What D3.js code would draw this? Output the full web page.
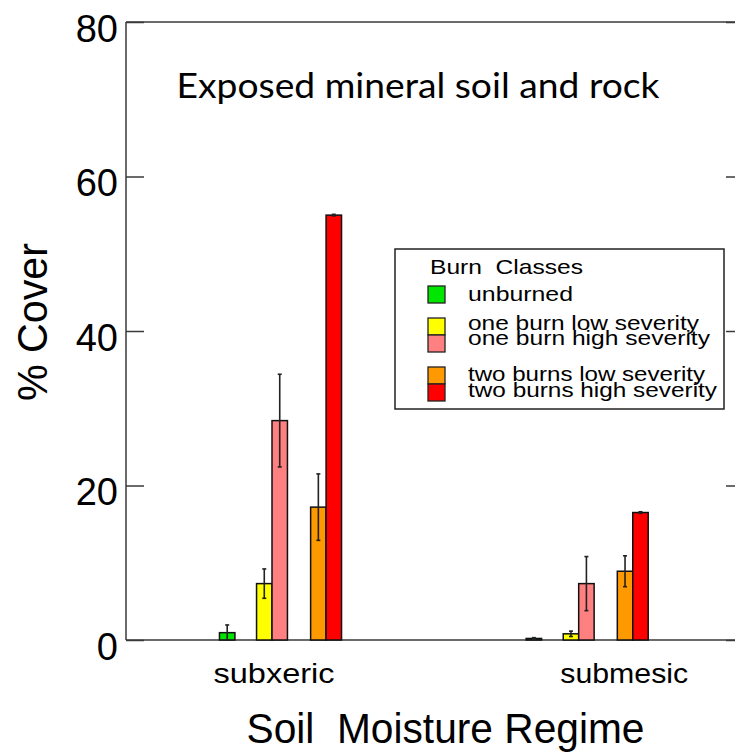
<!DOCTYPE html>
<html>
<head>
<meta charset="utf-8">
<script src="https://cdn.jsdelivr.net/npm/d3@7"></script>
<style>
  html, body { margin: 0; padding: 0; background: #fff; }
  svg { display: block; }
</style>
</head>
<body>
<svg id="chart" width="735" height="752"></svg>
<script>
// Soil moisture regimes on the x axis
const regimes = ["subxeric", "submesic"];

// Burn classes (one bar per class within each regime)
const burnClasses = [
  "unburned",
  "one burn low severity",
  "one burn high severity",
  "two burns low severity",
  "two burns high severity"
];
const classColors = ["#00e600", "#ffff00", "#ff8080", "#ff9900", "#ff0000"];

// Mean % cover of exposed mineral soil and rock, per regime
const subxericCover = [0.95, 7.3, 28.4, 17.2, 55.0];
const submesicCover = [0.2, 0.8, 7.3, 8.9, 16.5];

// Standard errors
const subxericErr = [1.0, 1.9, 6.0, 4.3, 0.1];
const submesicErr = [0.1, 0.35, 3.5, 2.0, 0.1];

const yTicks = [0, 20, 40, 60, 80];

const coverByRegime = [subxericCover, submesicCover];
const errByRegime = [subxericErr, submesicErr];

// ---- layout ----
const svg = d3.select("#chart");
const plotLeft = 126, plotRight = 744, plotTop = 22, plotBottom = 640;

// x runs in bar-width units across the frame
const x = d3.scaleLinear().domain([0, 40]).range([plotLeft, plotLeft + 40 * 15.45]);
const y = d3.scaleLinear().domain([0, 80]).range([plotBottom, plotTop]);

// first-bar centre of each regime group, bar offsets within a group, label centres
const groupStart = [6.55, 26.4];
const barOffset = [0, 2.4, 3.4, 5.9, 6.9];
const labelCentre = [9.58, 32.25];
const labelWidth = [121, 128];

const axisColor = "#3a3a3a";

// frame
svg.append("g")
  .attr("fill", "none")
  .attr("stroke", axisColor)
  .attr("stroke-width", 1.5)
  .selectAll("line")
  .data([
    [plotLeft, plotTop, plotRight, plotTop],
    [plotLeft, plotTop, plotLeft, plotBottom],
    [plotLeft, plotBottom, plotRight, plotBottom],
    [plotRight, plotTop, plotRight, plotBottom]
  ])
  .join("line")
  .attr("x1", d => d[0]).attr("y1", d => d[1])
  .attr("x2", d => d[2]).attr("y2", d => d[3]);

// left axis: inward ticks, labels outside
const yAxis = svg.append("g")
  .attr("transform", `translate(${plotLeft},0)`)
  .call(d3.axisLeft(y).tickValues(yTicks).tickSize(-18).tickSizeOuter(0).tickPadding(8));
yAxis.select(".domain").remove();
yAxis.selectAll(".tick line").attr("stroke", axisColor).attr("stroke-width", 1.5);
yAxis.selectAll(".tick text")
  .attr("fill", "#000")
  .attr("font-family", "'Liberation Sans', Arial, sans-serif")
  .attr("font-size", 38)
  .attr("dy", "0.5em");

// right axis: inward ticks only
const yAxisR = svg.append("g")
  .attr("transform", `translate(${plotRight},0)`)
  .call(d3.axisRight(y).tickValues(yTicks).tickSize(-18).tickSizeOuter(0).tickFormat(""));
yAxisR.select(".domain").remove();
yAxisR.selectAll(".tick line").attr("stroke", axisColor).attr("stroke-width", 1.5);

// bars
const barW = x(1) - x(0);
const rows = [];
regimes.forEach((r, gi) => {
  burnClasses.forEach((c, ci) => {
    rows.push({
      regime: r, cls: c, ci,
      value: coverByRegime[gi][ci],
      err: errByRegime[gi][ci],
      cx: x(groupStart[gi] + barOffset[ci])
    });
  });
});

svg.append("g")
  .selectAll("rect")
  .data(rows)
  .join("rect")
  .attr("x", d => d.cx - barW / 2)
  .attr("width", barW)
  .attr("y", d => y(d.value))
  .attr("height", d => y(0) - y(d.value))
  .attr("fill", d => classColors[d.ci])
  .attr("stroke", "#111")
  .attr("stroke-width", 1.5);

// error bars
const eb = svg.append("g").attr("stroke", "#222").attr("stroke-width", 1.6);
eb.selectAll("line.v")
  .data(rows)
  .join("line")
  .attr("class", "v")
  .attr("x1", d => d.cx).attr("x2", d => d.cx)
  .attr("y1", d => y(d.value + d.err))
  .attr("y2", d => y(Math.max(0, d.value - d.err)));
eb.selectAll("line.top")
  .data(rows)
  .join("line")
  .attr("class", "top")
  .attr("x1", d => d.cx - 2).attr("x2", d => d.cx + 2)
  .attr("y1", d => y(d.value + d.err)).attr("y2", d => y(d.value + d.err));
eb.selectAll("line.bot")
  .data(rows)
  .join("line")
  .attr("class", "bot")
  .attr("x1", d => d.cx - 2).attr("x2", d => d.cx + 2)
  .attr("y1", d => y(Math.max(0, d.value - d.err))).attr("y2", d => y(Math.max(0, d.value - d.err)));

// category labels
svg.append("g")
  .selectAll("text")
  .data(regimes)
  .join("text")
  .attr("x", (d, i) => x(labelCentre[i]))
  .attr("y", 683)
  .attr("text-anchor", "middle")
  .attr("font-family", "'Liberation Sans', Arial, sans-serif")
  .attr("font-size", 28)
  .attr("textLength", (d, i) => labelWidth[i]).attr("lengthAdjust", "spacingAndGlyphs")
  .text(d => d);

// axis titles
svg.append("text")
  .attr("x", 246.5).attr("y", 743)
  .attr("font-family", "'Liberation Sans', Arial, sans-serif")
  .attr("font-size", 42)
  .attr("textLength", 398).attr("lengthAdjust", "spacingAndGlyphs")
  .attr("xml:space", "preserve")
  .text("Soil  Moisture Regime");

svg.append("text")
  .attr("transform", "translate(47,322) rotate(-90)")
  .attr("text-anchor", "middle")
  .attr("font-family", "'Liberation Sans', Arial, sans-serif")
  .attr("font-size", 42)
  .attr("textLength", 158).attr("lengthAdjust", "spacingAndGlyphs")
  .text("% Cover");

// panel title
svg.append("text")
  .attr("x", 176.5).attr("y", 98)
  .attr("font-family", "Lato, 'Open Sans', sans-serif")
  .attr("font-size", 35)
  .attr("textLength", 483).attr("lengthAdjust", "spacingAndGlyphs")
  .text("Exposed mineral soil and rock");

// legend
const legend = svg.append("g");
legend.append("rect")
  .attr("x", 395).attr("y", 249).attr("width", 329).attr("height", 160)
  .attr("fill", "#fff").attr("stroke", "#222").attr("stroke-width", 1.5);

const legendFont = "'Liberation Sans', Arial, sans-serif";
legend.append("text")
  .attr("x", 430).attr("y", 274)
  .attr("font-family", legendFont).attr("font-size", 21)
  .attr("textLength", 153).attr("lengthAdjust", "spacingAndGlyphs")
  .attr("xml:space", "preserve")
  .text("Burn  Classes");

const swatchY = [286, 318, 335, 367, 384];
const labelY = [301, 330, 345, 381, 397];
const labelW = [105, 231, 242, 237, 249];

legend.selectAll("rect.sw")
  .data(burnClasses)
  .join("rect")
  .attr("class", "sw")
  .attr("x", 428).attr("y", (d, i) => swatchY[i])
  .attr("width", 17).attr("height", 17)
  .attr("fill", (d, i) => classColors[i])
  .attr("stroke", "#222").attr("stroke-width", 1.3);

legend.selectAll("text.lb")
  .data(burnClasses)
  .join("text")
  .attr("class", "lb")
  .attr("x", 468).attr("y", (d, i) => labelY[i])
  .attr("font-family", legendFont).attr("font-size", 21)
  .attr("textLength", (d, i) => labelW[i]).attr("lengthAdjust", "spacingAndGlyphs")
  .text(d => d);
</script>
</body>
</html>
